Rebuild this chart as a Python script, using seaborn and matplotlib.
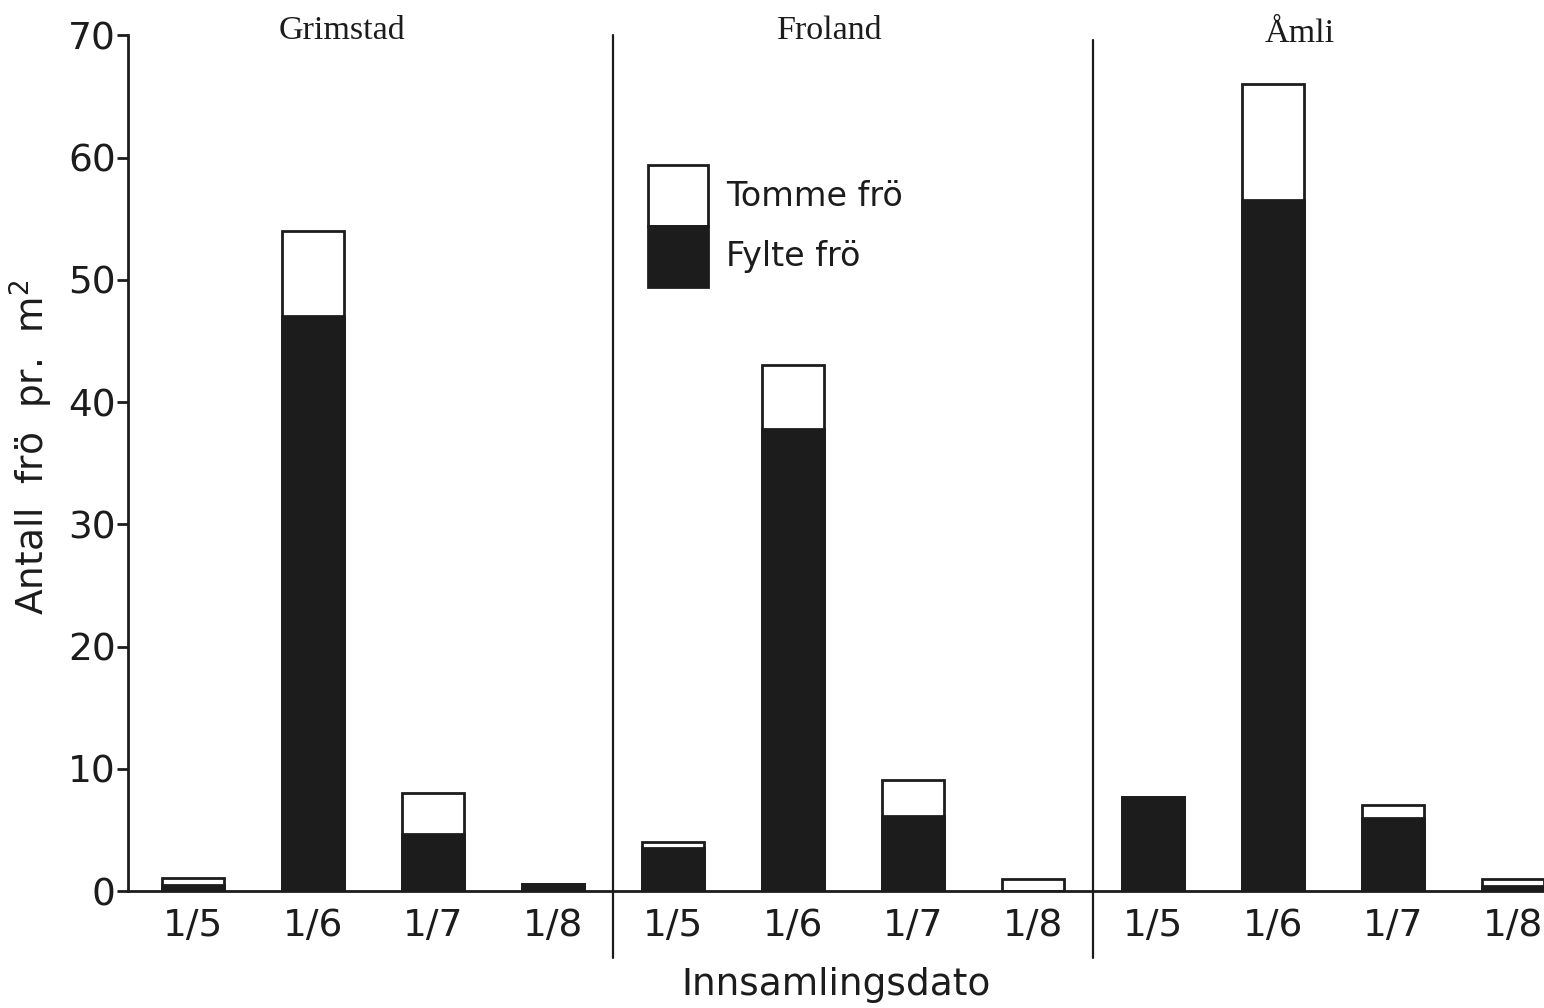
import matplotlib
matplotlib.use("Agg")
import matplotlib.pyplot as plt
from matplotlib.patches import Patch
import numpy as np
import pandas as pd
import seaborn as sns

# Seed counts per m² by collection date at three sites
sites = ["Grimstad", "Froland", "Åmli"]
dates = ["1/5", "1/6", "1/7", "1/8"]
filled_grimstad = [0.5, 47.0, 4.7, 0.6]
empty_grimstad = [0.6, 7.0, 3.3, 0.0]
filled_froland = [3.5, 37.8, 6.1, 0.0]
empty_froland = [0.5, 5.2, 3.0, 1.0]
filled_amli = [7.7, 56.5, 6.0, 0.4]
empty_amli = [0.0, 9.5, 1.0, 0.6]

filled = {"Grimstad": filled_grimstad, "Froland": filled_froland, "Åmli": filled_amli}
empty = {"Grimstad": empty_grimstad, "Froland": empty_froland, "Åmli": empty_amli}

rows = []
for s in sites:
    for d, f, e in zip(dates, filled[s], empty[s]):
        rows.append({"slot": f"{s} {d}", "site": s, "date": d,
                     "filled": f, "empty": e, "total": f + e})
df = pd.DataFrame(rows)
order = list(df["slot"])

sns.set_theme(style="white")
plt.rcParams["font.family"] = ["DejaVu Sans"]

fig = plt.figure(figsize=(15.44, 10.08), dpi=100)
ax = fig.add_axes([0.083, 0.116, 0.917, 0.849])

dark = "#1c1c1c"
# total height (empty on top of filled) as white outlined bars
sns.barplot(data=df, x="slot", y="total", order=order, color="white",
            saturation=1, edgecolor=dark, linewidth=2.0, width=0.52, ax=ax)
# filled seeds drawn over the lower part
sns.barplot(data=df, x="slot", y="filled", order=order, color=dark,
            saturation=1, edgecolor=dark, linewidth=2.0, width=0.52, ax=ax)

ax.set_xlim(-0.54, 11.26)
ax.set_ylim(0, 70)
ax.set_yticks(np.arange(0, 71, 10))
ax.set_xticks(range(len(order)))
ax.set_xticklabels(list(df["date"]))

for side in ["top", "right"]:
    ax.spines[side].set_visible(False)
for side in ["left", "bottom"]:
    ax.spines[side].set_color(dark)
    ax.spines[side].set_linewidth(2.0)

ax.tick_params(axis="y", direction="out", length=8, width=2.0, color=dark,
               labelsize=27, pad=1, labelcolor=dark, left=True)
ax.tick_params(axis="x", length=0, labelsize=27, pad=12, labelcolor=dark)

ax.set_xlabel("Innsamlingsdato", fontsize=27, color=dark, labelpad=17)
ax.set_ylabel("Antall  frö  pr.  m$^{2}$", fontsize=27, color=dark)
ax.yaxis.set_label_coords(-0.052, 0.518)

# site separators reaching down through the date labels
for xpos, top in [(3.5, 1.0), (7.5, 0.994)]:
    ax.axvline(xpos, ymin=-0.078, ymax=top, color=dark, linewidth=1.6,
               clip_on=False)

# site names
for name, xpos, ypos in [("Grimstad", 1.24, 70.4), ("Froland", 5.31, 70.4),
                         ("Åmli", 9.22, 70.1)]:
    ax.text(xpos, ypos, name, ha="center", va="center", fontsize=24.5,
            family="Liberation Serif", color=dark, clip_on=False)

handles = [Patch(facecolor="white", edgecolor=dark, linewidth=2.0, label="Tomme frö"),
           Patch(facecolor=dark, edgecolor=dark, linewidth=2.0, label="Fylte frö")]
ax.legend(handles=handles, loc="upper left", bbox_to_anchor=(0.367, 0.848),
          frameon=False, fontsize=24, handlelength=1.8, handleheight=2.42,
          labelspacing=0.0, borderpad=0.0, borderaxespad=0.0,
          handletextpad=0.55, labelcolor=dark)

fig.savefig("out.png", dpi=100)
